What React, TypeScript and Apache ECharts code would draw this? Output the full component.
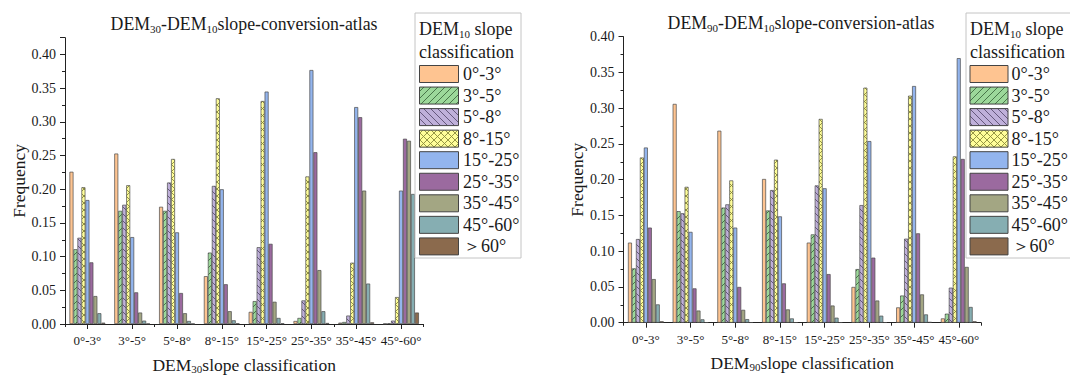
import React, { useEffect, useRef } from 'react';
import * as echarts from 'echarts';

// ---------- data ----------
const categories = ['0°-3°', '3°-5°', '5°-8°', '8°-15°', '15°-25°', '25°-35°', '35°-45°', '45°-60°'];
const classLabels = ['0°-3°', '3°-5°', '5°-8°', '8°-15°', '15°-25°', '25°-35°', '35°-45°', '45°-60°', '＞60°'];

// DEM30 -> DEM10 (left chart), one array per DEM10 class, across DEM30 categories
const dem30_c0 = [0.226, 0.253, 0.174, 0.071, 0.018, 0.0045, 0.002, 0.0005];
const dem30_c1 = [0.111, 0.168, 0.168, 0.106, 0.034, 0.009, 0.003, 0.001];
const dem30_c2 = [0.128, 0.177, 0.21, 0.205, 0.114, 0.035, 0.0125, 0.005];
const dem30_c3 = [0.203, 0.206, 0.245, 0.335, 0.331, 0.219, 0.091, 0.04];
const dem30_c4 = [0.184, 0.129, 0.136, 0.2, 0.345, 0.377, 0.322, 0.198];
const dem30_c5 = [0.0915, 0.047, 0.046, 0.059, 0.119, 0.255, 0.307, 0.275];
const dem30_c6 = [0.0415, 0.017, 0.016, 0.019, 0.033, 0.08, 0.198, 0.272];
const dem30_c7 = [0.016, 0.005, 0.0045, 0.0055, 0.009, 0.019, 0.06, 0.193];
const dem30_c8 = [0.002, 0.0005, 0.0005, 0.001, 0.001, 0.0015, 0.0025, 0.017];

// DEM90 -> DEM10 (right chart)
const dem90_c0 = [0.112, 0.306, 0.2685, 0.201, 0.112, 0.05, 0.0214, 0.006];
const dem90_c1 = [0.076, 0.156, 0.161, 0.157, 0.1235, 0.075, 0.038, 0.0126];
const dem90_c2 = [0.117, 0.153, 0.1655, 0.1855, 0.192, 0.1645, 0.1175, 0.049];
const dem90_c3 = [0.231, 0.19, 0.199, 0.228, 0.285, 0.3287, 0.3175, 0.2326];
const dem90_c4 = [0.245, 0.127, 0.133, 0.1487, 0.188, 0.254, 0.331, 0.37];
const dem90_c5 = [0.133, 0.048, 0.05, 0.055, 0.068, 0.091, 0.125, 0.229];
const dem90_c6 = [0.061, 0.017, 0.018, 0.0186, 0.024, 0.031, 0.0396, 0.078];
const dem90_c7 = [0.0256, 0.0047, 0.005, 0.006, 0.007, 0.0098, 0.0116, 0.022];
const dem90_c8 = [0.002, 0.0005, 0.0005, 0.0005, 0.0005, 0.0005, 0.001, 0.002];

const dem30Series = [dem30_c0, dem30_c1, dem30_c2, dem30_c3, dem30_c4, dem30_c5, dem30_c6, dem30_c7, dem30_c8];
const dem90Series = [dem90_c0, dem90_c1, dem90_c2, dem90_c3, dem90_c4, dem90_c5, dem90_c6, dem90_c7, dem90_c8];

const fillColors = ['#FEC491', '#9CD89A', '#BFB0DA', '#FFFE99', '#93B5EE', '#9B6A9F', '#A3A683', '#86AEB2', '#8B6A4D'];
const hatchKinds = ['none', 'slash', 'back', 'cross', 'none', 'none', 'none', 'none', 'none'];
const hatchColors = ['', '#3E6A3E', '#5A4E72', '#8A8A3A', '', '', '', '', ''];

const serif = 'Liberation Serif';
const ink = '#1a1a1a';

function makeFill(i: number): any {
  const kind = hatchKinds[i];
  if (kind === 'none') return fillColors[i];
  const size = 7;
  const c = document.createElement('canvas');
  c.width = size;
  c.height = size;
  const ctx = c.getContext('2d')!;
  ctx.fillStyle = fillColors[i];
  ctx.fillRect(0, 0, size, size);
  ctx.strokeStyle = hatchColors[i];
  ctx.lineWidth = 0.9;
  const slash = () => {
    for (const o of [-size, 0, size]) {
      ctx.beginPath();
      ctx.moveTo(o, size);
      ctx.lineTo(o + size, 0);
      ctx.stroke();
    }
  };
  const back = () => {
    for (const o of [-size, 0, size]) {
      ctx.beginPath();
      ctx.moveTo(o, 0);
      ctx.lineTo(o + size, size);
      ctx.stroke();
    }
  };
  if (kind === 'slash') slash();
  if (kind === 'back') back();
  if (kind === 'cross') {
    slash();
    back();
  }
  return { image: c.toDataURL(), repeat: 'repeat', imageWidth: size, imageHeight: size };
}

export default function App() {
  const ref = useRef<HTMLDivElement>(null);
  useEffect(() => {
    const chart = echarts.init(ref.current!, null, { renderer: 'svg' });
    const fills = fillColors.map((_, i) => makeFill(i));

    const subRichAxis = {
      m: { fontSize: 17.5, fontFamily: serif, color: ink },
      s: { fontSize: 11, fontFamily: serif, color: ink, verticalAlign: 'bottom', padding: [8, 0, 0, 0] },
    };
    const subRichZ = (size: number) => ({
      m: { fontSize: size, fontFamily: serif, fill: ink },
      s: { fontSize: 11, fontFamily: serif, fill: ink, verticalAlign: 'bottom', padding: [10, 0, 0, 0] },
    });

    const grids = [
      { left: 65, top: 37.7, width: 358.4, height: 286.3, containLabel: false, outerBoundsMode: 'none' },
      { left: 623.5, top: 36.7, width: 357.6, height: 286, containLabel: false, outerBoundsMode: 'none' },
    ];

    const xAxes: any[] = [];
    const yAxes: any[] = [];
    const names = ['30', '90'];
    const maxes = [0.425, 0.4];
    for (let g = 0; g < 2; g++) {
      xAxes.push({
        type: 'category',
        gridIndex: g,
        data: categories,
        position: 'bottom',
        axisLine: { show: true, lineStyle: { color: '#222', width: 1 } },
        axisTick: { show: true, alignWithLabel: true, length: 5, lineStyle: { color: '#222' } },
        axisLabel: { interval: 0, margin: 10, fontSize: 13, fontFamily: serif, color: ink },
        name: `{m|DEM}{s|${names[g]}}{m|slope classification}`,
        nameLocation: 'middle',
        nameGap: 31,
        nameTextStyle: { rich: subRichAxis },
        splitLine: { show: false },
      });
      xAxes.push({
        type: 'category',
        gridIndex: g,
        data: categories,
        position: 'bottom',
        axisLine: { show: false },
        axisTick: { show: true, length: 3, lineStyle: { color: '#222' } },
        axisLabel: { show: false },
        splitLine: { show: false },
      });
      yAxes.push({
        type: 'value',
        gridIndex: g,
        min: 0,
        max: maxes[g],
        interval: 0.05,
        axisLine: { show: true, lineStyle: { color: '#222', width: 1 } },
        axisTick: { show: true, length: 5, lineStyle: { color: '#222' } },
        minorTick: { show: true, splitNumber: 2, length: 3, lineStyle: { color: '#222' } },
        splitLine: { show: false },
        axisLabel: {
          margin: 9,
          fontSize: 14,
          fontFamily: serif,
          color: ink,
          formatter: (v: number) => (v > 0.4001 ? '' : v.toFixed(2)),
        },
        name: 'Frequency',
        nameLocation: 'middle',
        nameGap: 36,
        nameTextStyle: { fontSize: 17.5, fontFamily: serif, color: ink },
      });
    }

    const series: any[] = [];
    const addSeries = (arrs: number[][], xi: number, yi: number) => {
      arrs.forEach((arr, i) => {
        series.push({
          type: 'bar',
          name: classLabels[i],
          xAxisIndex: xi,
          yAxisIndex: yi,
          data: arr,
          barGap: '0%',
          barCategoryGap: '20%',
          itemStyle: { color: fills[i], borderColor: '#4a4a4a', borderWidth: 0.7 },
        });
      });
    };
    addSeries(dem30Series, 0, 0);
    addSeries(dem90Series, 2, 1);

    const titleText = (sub: string) => `{m|DEM}{s|${sub}}{m|-DEM}{s|10}{m|slope-conversion-atlas}`;

    const legendGroup = (bx: number, bw: number, sx: number, sw: number, lx: number) => {
      const children: any[] = [];
      children.push({
        type: 'rect',
        shape: { x: bx, y: 13, width: bw, height: 245 },
        style: { fill: '#fff', stroke: '#c4c4c4', lineWidth: 1 },
        z: 100,
      });
      children.push({
        type: 'text',
        x: bx + 4,
        y: 29,
        style: {
          text: '{m|DEM}{s|10}{m| slope}',
          rich: subRichZ(18),
          align: 'left',
          verticalAlign: 'middle',
        },
        z: 101,
      });
      children.push({
        type: 'text',
        x: bx + 4,
        y: 52,
        style: { text: 'classification', font: `18px ${serif}`, fill: ink, align: 'left', verticalAlign: 'middle' },
        z: 101,
      });
      classLabels.forEach((lab, i) => {
        const top = 65.5 + i * 21.55;
        children.push({
          type: 'rect',
          shape: { x: sx, y: top, width: sw, height: 17 },
          style: { fill: fills[i], stroke: '#444', lineWidth: 1 },
          z: 101,
        });
        children.push({
          type: 'text',
          x: lx,
          y: top + 8.5,
          style: { text: lab, font: `18px ${serif}`, fill: ink, align: 'left', verticalAlign: 'middle' },
          z: 101,
        });
      });
      return children;
    };

    const option: any = {
      animation: false,
      backgroundColor: '#fff',
      grid: grids,
      xAxis: xAxes,
      yAxis: yAxes,
      series,
      graphic: [
        {
          type: 'text',
          x: 244,
          y: 24,
          style: { text: titleText('30'), rich: subRichZ(17.8), align: 'center', verticalAlign: 'middle' },
          z: 100,
        },
        {
          type: 'text',
          x: 801,
          y: 23,
          style: { text: titleText('90'), rich: subRichZ(17.8), align: 'center', verticalAlign: 'middle' },
          z: 100,
        },
        ...legendGroup(415, 106, 419.5, 39, 463),
        ...legendGroup(966, 110, 970, 38, 1011.5),
      ],
    };
    chart.setOption(option);
    return () => chart.dispose();
  }, []);
  return (
    <div
      ref={ref}
      style={{ position: 'fixed', left: 0, top: 0, width: 1070, height: 376, background: '#fff' }}
    />
  );
}
